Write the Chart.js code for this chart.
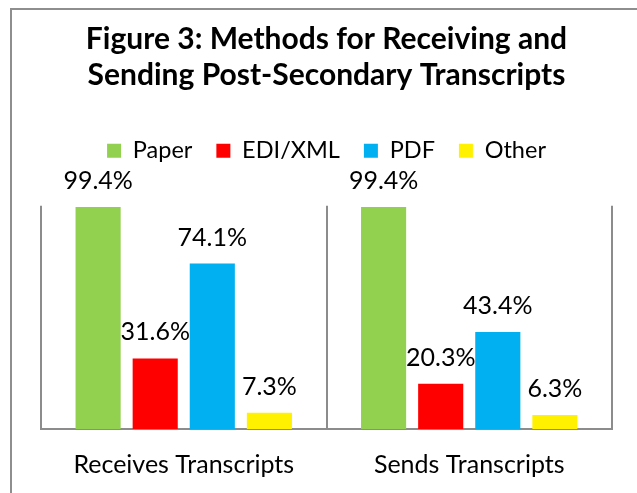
<!DOCTYPE html>
<html>
<head>
<meta charset="utf-8">
<script src="https://cdn.jsdelivr.net/npm/chart.js@4"></script>
<style>
  body { margin: 0; background: #fff; overflow: hidden; }
  #wrap { position: relative; width: 637px; height: 493px; overflow: hidden; }
  #frame { position: absolute; left: 10px; top: 8px; width: 640px; height: 500px; border: 2px solid #8e8e8e; }
  canvas { position: absolute; left: 0; top: 0; }
</style>
</head>
<body>
<div id="wrap">
  <div id="frame"></div>
  <canvas id="myBarChart" width="637" height="501"></canvas>
</div>
<script>
// Chart data
const categories = ['Receives Transcripts', 'Sends Transcripts'];
const seriesNames = ['Paper', 'EDI/XML', 'PDF', 'Other'];
const paper = [99.4, 99.4];
const ediXml = [31.6, 20.3];
const pdf = [74.1, 43.4];
const other = [7.3, 6.3];
const colours = ['#92D050', '#FF0000', '#00B0F0', '#FFF100'];

Chart.defaults.font.family = 'Lato';
Chart.defaults.color = '#000';

// draws the percentage above each bar
const valueLabels = {
  id: 'valueLabels',
  afterDatasetsDraw(chart) {
    const ctx = chart.ctx;
    ctx.save();
    ctx.font = '25px Lato';
    ctx.fillStyle = '#000';
    ctx.textAlign = 'center';
    ctx.textBaseline = 'middle';
    chart.data.datasets.forEach((ds, i) => {
      chart.getDatasetMeta(i).data.forEach((bar, j) => {
        ctx.fillText(ds.data[j].toFixed(1) + '%', bar.x, bar.y - 26);
      });
    });
    ctx.restore();
  }
};

const allSeries = [paper, ediXml, pdf, other];
const ctx = document.getElementById('myBarChart').getContext('2d');
new Chart(ctx, {
  type: 'bar',
  data: {
    labels: categories,
    datasets: allSeries.map((d, i) => ({
      label: seriesNames[i],
      data: d,
      backgroundColor: colours[i],
      categoryPercentage: 0.8,
      barPercentage: 0.79
    }))
  },
  options: {
    responsive: false,
    animation: false,
    layout: { padding: { left: 41, right: 25, top: 0, bottom: 0 } },
    plugins: {
      title: {
        display: true,
        text: ['Figure 3: Methods for Receiving and', 'Sending Post-Secondary Transcripts'],
        font: { size: 30, weight: 'bold', lineHeight: 1.2 },
        color: '#000',
        padding: { top: 21, bottom: 22 }
      },
      legend: {
        position: 'top',
        labels: { boxWidth: 14, boxHeight: 14, padding: 24, font: { size: 23.5 }, color: '#000' }
      },
      // blank subtitle used as a spacer between the legend and the plot
      subtitle: {
        display: true,
        text: ' ',
        weight: 500,
        font: { size: 1 },
        padding: { top: 0, bottom: 32 }
      },
      tooltip: { enabled: false }
    },
    scales: {
      x: {
        grid: { color: '#8c8c8c', lineWidth: 2, drawTicks: false, offset: true },
        border: { color: '#8c8c8c', width: 2 },
        ticks: { font: { size: 25 }, color: '#000', padding: 21 }
      },
      y: {
        display: false,
        min: 0,
        max: 100
      }
    }
  },
  plugins: [valueLabels]
});
</script>
</body>
</html>
